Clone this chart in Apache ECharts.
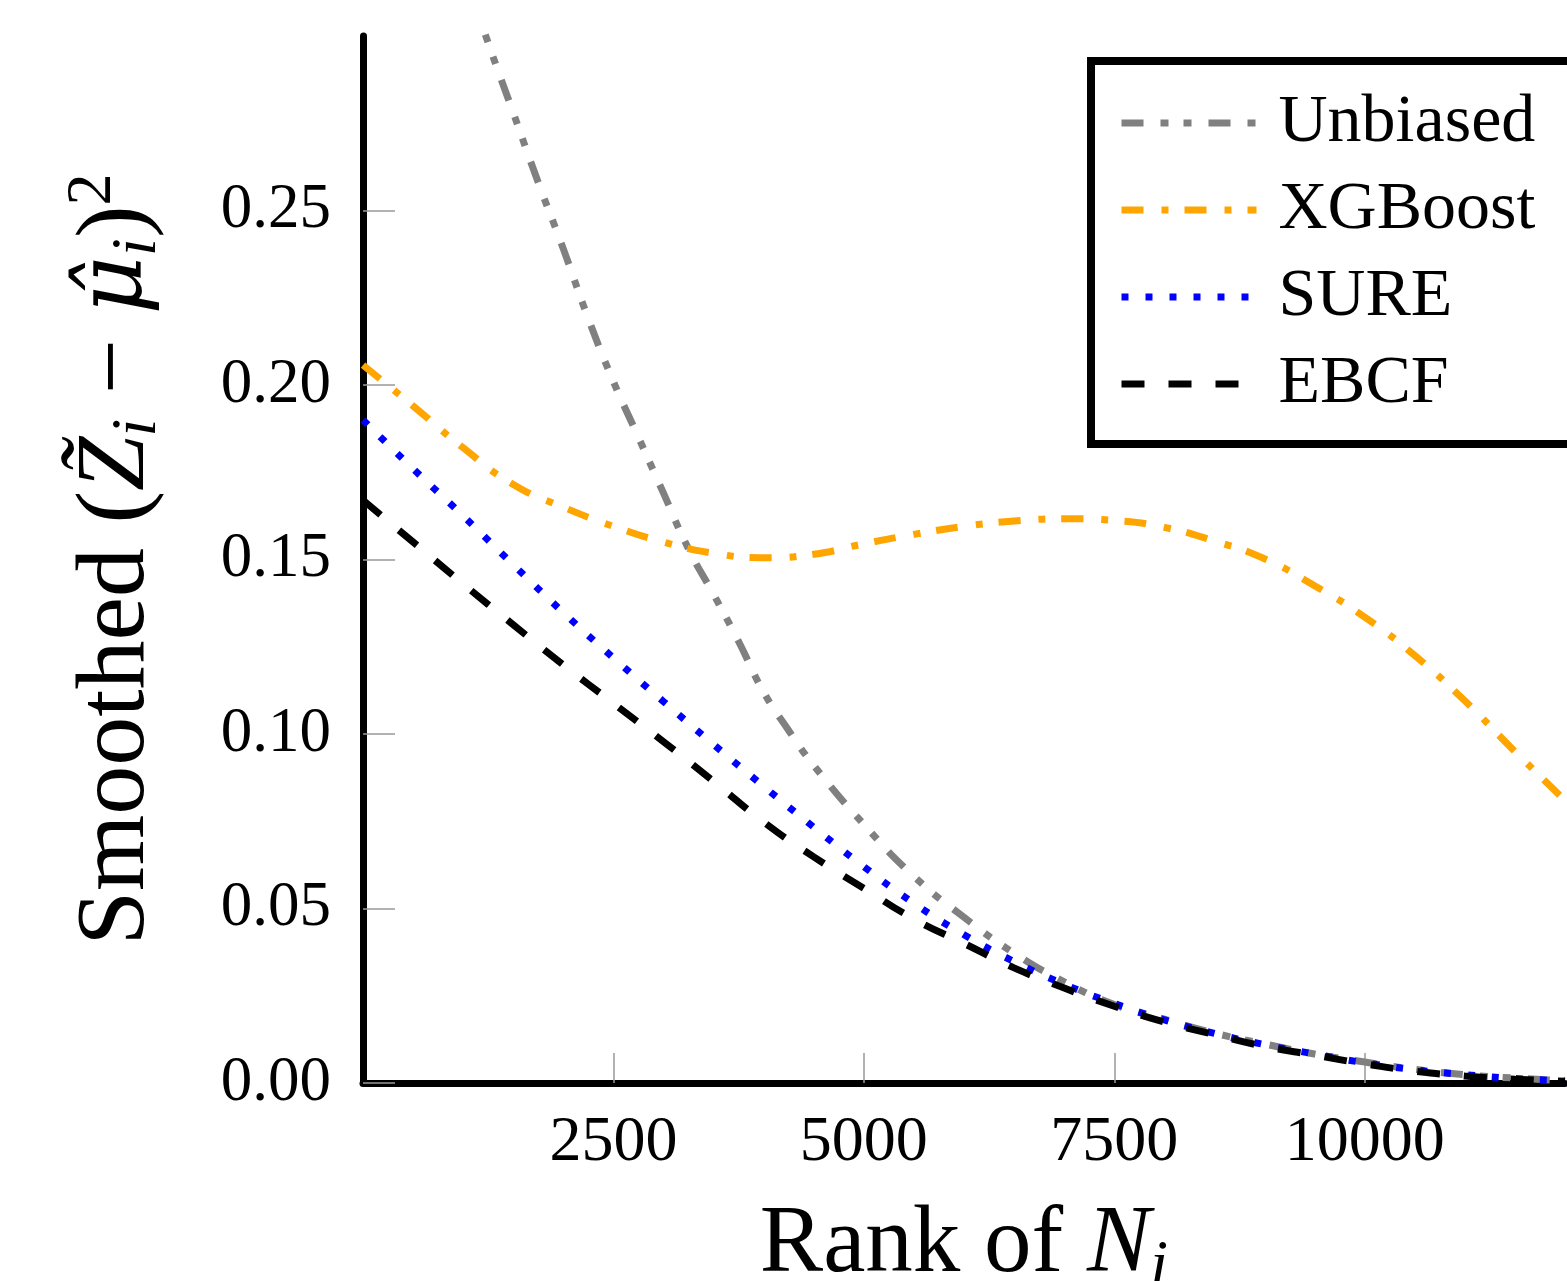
<!DOCTYPE html>
<html>
<head>
<meta charset="utf-8">
<script src="https://cdn.jsdelivr.net/npm/echarts@6/dist/echarts.min.js"></script>
<style>
  html, body { margin: 0; padding: 0; background: #fff; }
  #chart { width: 1567px; height: 1281px; }
</style>
</head>
<body>
<div id="chart"></div>
<script>
// ranks (x) for the smoothed curves
const rankX = [0, 500, 1000, 1500, 2000, 2500, 3000, 3500, 4000, 4500, 5000, 5500, 6000,
               6500, 7000, 7500, 8000, 8500, 9000, 9500, 10000, 10500, 11000, 11500, 12000];
const xgboost = [0.2057, 0.194, 0.182, 0.1715, 0.165, 0.1595, 0.155, 0.1518, 0.1505, 0.1515, 0.1545, 0.1572, 0.1595,
                 0.161, 0.1617, 0.1612, 0.1592, 0.1553, 0.1502, 0.1425, 0.1335, 0.1225, 0.1095, 0.095, 0.081];
const sure = [0.190, 0.176, 0.1625, 0.1485, 0.1348, 0.1218, 0.1093, 0.097, 0.085, 0.0733, 0.062, 0.0515, 0.0425,
              0.0348, 0.0283, 0.0228, 0.0181, 0.0142, 0.011, 0.0083, 0.0058, 0.0038, 0.0024, 0.0013, 0.0006];
const ebcf = [0.167, 0.155, 0.143, 0.1313, 0.1198, 0.1088, 0.0978, 0.0864, 0.0748, 0.0648, 0.0558, 0.047, 0.040,
              0.033, 0.0272, 0.022, 0.0175, 0.0139, 0.0105, 0.008, 0.0055, 0.0034, 0.002, 0.0011, 0.0005];
// unbiased curve starts off the top of the plot
const unbiasedX = [1100, 1250, 1500, 1750, 2000, 2250, 2500, 2750, 3000, 3250, 3500, 3750, 4000, 4250, 4500,
                   5000, 5500, 6000, 6500, 7000, 7500, 8000, 8500, 9000, 9500, 10000, 10500, 11000, 11500, 12000];
const unbiased = [0.311, 0.298, 0.278, 0.258, 0.239, 0.219, 0.201, 0.185, 0.169, 0.153, 0.140, 0.1265, 0.112, 0.101, 0.091,
                  0.0741, 0.0592, 0.0475, 0.0372, 0.029, 0.0225, 0.0183, 0.0143, 0.0112, 0.0083, 0.006, 0.0039, 0.0024, 0.0014, 0.0007];
const xTicks = [2500, 5000, 7500, 10000];
const yTicks = [0, 0.05, 0.10, 0.15, 0.20, 0.25];

const pairs = (xs, ys) => xs.map((x, i) => [x, ys[i]]);
const serif = 'Liberation Serif';

const chart = echarts.init(document.getElementById('chart'));

function lineSeries(name, data, color, dash) {
  return {
    name: name,
    type: 'line',
    data: data,
    symbol: 'none',
    smooth: true,
    clip: true,
    lineStyle: { color: color, width: 7, type: dash, cap: 'butt' },
    itemStyle: { color: color }
  };
}

chart.setOption({
  animation: false,
  backgroundColor: '#fff',
  grid: { left: 363, right: 2, top: 36, bottom: 198, containLabel: false, outerBoundsMode: 'none' },
  legend: {
    data: ['Unbiased', 'XGBoost', 'SURE', 'EBCF'],
    orient: 'vertical',
    left: 1091,
    top: 61,
    padding: [28, 40, 26, 27],
    itemWidth: 135,
    itemHeight: 8,
    itemGap: 19,
    borderColor: '#000',
    borderWidth: 8,
    backgroundColor: '#fff',
    itemStyle: { opacity: 0 },
    lineStyle: { width: 7 },
    textStyle: { fontFamily: serif, fontSize: 68, color: '#000', lineHeight: 66, padding: [0, 0, 0, 17] }
  },
  xAxis: {
    type: 'value',
    min: 0,
    max: 12000,
    interval: 2500,
    splitLine: { show: false },
    axisLine: { show: true, onZero: false, lineStyle: { color: '#000', width: 7 } },
    axisTick: { show: true, inside: true, length: 30, customValues: xTicks, lineStyle: { color: '#999', width: 1.5 } },
    axisLabel: { customValues: xTicks, fontFamily: serif, fontSize: 64, color: '#000', margin: 28, formatter: v => String(v) },
    name: 'Rank of {it|N}{sub|i}',
    nameLocation: 'middle',
    nameGap: 110,
    nameTextStyle: {
      fontFamily: serif, fontSize: 95, color: '#000',
      rich: {
        it: { fontFamily: serif, fontStyle: 'italic', fontSize: 95, color: '#000' },
        sub: { fontFamily: serif, fontStyle: 'italic', fontSize: 64, color: '#000', padding: [42, 0, 0, 0] }
      }
    }
  },
  yAxis: {
    type: 'value',
    min: 0,
    max: 0.3,
    interval: 0.05,
    splitLine: { show: false },
    axisLine: { show: true, onZero: false, lineStyle: { color: '#000', width: 7 } },
    axisTick: { show: true, inside: true, length: 32, customValues: yTicks, lineStyle: { color: '#999', width: 1.5 } },
    axisLabel: {
      customValues: yTicks,
      fontFamily: serif, fontSize: 63, color: '#000', margin: 32,
      formatter: v => v.toFixed(2)
    },
    name: 'Smoothed ({it|Z\u0303}{sub|i} \u2212 {mu|\u03BC\u0302}{sub|i}){sup|2}',
    nameLocation: 'middle',
    nameRotate: 90,
    nameGap: 190,
    nameTextStyle: {
      fontFamily: serif, fontSize: 98, color: '#000',
      rich: {
        it: { fontFamily: serif, fontStyle: 'italic', fontSize: 98, color: '#000' },
        mu: { fontFamily: 'DejaVu Serif', fontStyle: 'italic', fontSize: 90, color: '#000' },
        sub: { fontFamily: serif, fontStyle: 'italic', fontSize: 64, color: '#000', padding: [42, 0, 0, 0] },
        sup: { fontFamily: serif, fontSize: 64, color: '#000', padding: [0, 0, 48, 0] }
      }
    }
  },
  series: [
    lineSeries('Unbiased', pairs(unbiasedX, unbiased), '#808080', [22, 17, 8, 15, 8, 17]),
    lineSeries('XGBoost', pairs(rankX, xgboost), '#FFA500', [22, 18, 7, 16]),
    lineSeries('SURE', pairs(rankX, sure), '#0000FF', [7, 17]),
    lineSeries('EBCF', pairs(rankX, ebcf), '#000000', [23, 24])
  ]
});
</script>
</body>
</html>
